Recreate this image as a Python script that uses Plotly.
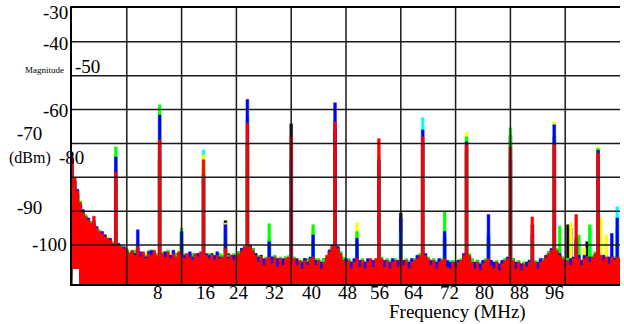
import plotly.graph_objects as go

# ---------------- data ----------------
FREQ_MHZ = [i * 0.5 for i in range(201)]  # 0 .. 100 MHz, 0.5 MHz bins

RED = [
    -74, -80, -84, -87.5, -90, -91.5, -92.5, -93.5, -91.5, -95, -96, -96.5, -97.5, -98, -98.5, -99.5, -78.5, -100, -100.5, -101, -101.5,
    -102.5, -101.5, -103, -100.5, -103.5, -102, -104, -102.5, -103, -101.5, -103, -69, -102.5, -103.5, -102, -104, -102.5, -103.5, -102, -103,
    -104, -102.5, -103.5, -104.5, -102.5, -103.5, -102, -74.8, -103, -104, -103, -104.5, -103, -104, -103.5, -101, -104, -103, -104.5, -103,
    -102.5, -101.5, -100.5, -64, -100.5, -101.5, -103, -105, -103.5, -106, -104, -103.5, -105.5, -103.5, -106.5, -104, -106, -104, -103.5, -68,
    -104, -106, -104.5, -107, -104.5, -106, -104, -103.5, -106, -104.5, -107, -105, -103, -102, -100.5, -63.6, -101, -102.5, -104.5, -106,
    -104.5, -107, -105, -104, -106.5, -104.5, -107, -105, -104, -106.5, -104, -68.6, -104, -106.5, -104.5, -107, -105, -104.5, -106.5, -104,
    -106, -104.5, -107, -105, -104.5, -104, -103, -68, -103, -104, -106, -104.5, -107, -105, -104.5, -104, -106.5, -107, -105, -107,
    -105, -104.5, -103, -70.4, -103, -105, -107, -105, -107.5, -105.5, -104.5, -104, -106, -107, -105, -107.5, -105.5, -104.5, -104, -71,
    -104.5, -107, -105, -107.5, -105.5, -106.5, -105, -91.7, -105, -107, -105, -104.5, -103.5, -102.5, -101.5, -70.4, -101.5, -103, -104, -106,
    -104.5, -106, -104, -91, -104, -106, -104, -103.5, -105, -103.5, -102.5, -72.8, -103, -104.5, -103.5, -105.5, -103.5, -104.5, -103.5, -104,
]

BLUE = [
    -75, -81, -83.5, -88, -89.5, -92, -92, -94, -93, -94.5, -96.5, -96, -97, -98.5, -98, -100, -74, -99.5, -101, -100.5, -102,
    -103, -102, -102.5, -95.5, -102, -103, -103.5, -102, -101.5, -102.5, -104, -61.6, -103, -102, -103, -103, -101.5, -104, -102.5, -96,
    -103, -103.5, -102, -103.5, -103, -102.5, -103.5, -80, -102.5, -103, -104, -103, -102, -103.5, -104, -94, -103.5, -104, -103, -104,
    -103, -101, -101.5, -57, -100, -102, -102.5, -103.5, -104.5, -104, -104.5, -99, -103.5, -104.5, -104, -105, -104, -104.5, -104.5, -75,
    -105, -104, -105.5, -105, -104, -105, -103.5, -97, -104.5, -105.5, -105, -105.5, -104, -101.5, -101, -58, -100.5, -103, -104.5, -104,
    -105.5, -105, -104, -98, -104.5, -105.5, -105, -104, -105, -104.5, -105, -75, -104.5, -104.5, -105.5, -105, -104, -105.5, -104.5, -92,
    -104.5, -105.5, -105, -104, -105.5, -103, -103.5, -66, -102.5, -104.5, -104.5, -105.5, -105, -104, -105.5, -96, -104.5, -105, -106, -105,
    -104.5, -105.5, -102.5, -69.5, -103.5, -105.5, -105, -106, -105.5, -104.5, -105.5, -91, -104.5, -105, -106, -105.5, -104.5, -105.5, -103.5, -75,
    -105.5, -105, -106, -105.5, -106, -105, -104.5, -97, -106, -105, -104, -105.5, -103, -103.5, -101, -64.5, -102, -102.5, -105, -104.5,
    -105.5, -104, -103.5, -98, -103, -104.5, -103, -104, -103.5, -104.5, -103, -72, -104, -103, -104.5, -103.5, -96.6, -104, -92, -104.5,
]

GREEN = [
    -76, -82, -85, -87, -90.5, -91, -93, -93, -94, -95.5, -95.5, -97, -97, -98, -99, -99, -71, -100.5, -100, -101.5, -101,
    -102, -103, -101.5, -101, -103, -102.5, -103, -101.5, -103.5, -102, -102.5, -58.6, -102, -103, -101.5, -103, -103, -102.5, -103.5, -95,
    -102.5, -104, -103, -102.5, -104, -103, -102.5, -79, -103.5, -102.5, -103.5, -104, -103.5, -102.5, -103, -97, -103, -104.5, -102.5, -103.5,
    -102, -102, -102, -70, -101.5, -101, -103.5, -103, -104, -104.5, -103.5, -93.7, -104, -103, -104.5, -103.5, -104.5, -103.5, -104, -76,
    -103.5, -104.5, -105, -104.5, -105, -104, -104.5, -94, -104, -104, -105, -104, -103.5, -102.5, -101, -72, -101.5, -102, -103.5, -104.5,
    -104, -105.5, -105, -96, -104.5, -104, -105.5, -104.5, -104.5, -105, -104.5, -74, -103.5, -105, -104, -105.5, -104.5, -104, -105, -97,
    -105, -104, -105.5, -104.5, -104, -104.5, -102.5, -72, -103.5, -103.5, -105, -104, -105.5, -104.5, -104, -90, -105, -105.5, -104.5, -105.5,
    -104.5, -104, -103.5, -68, -102.5, -104, -105.5, -104.5, -106, -105, -104, -97, -105, -105.5, -104.5, -106, -105, -104, -104.5, -65.4,
    -104, -105.5, -104.5, -106, -105, -105.5, -104.5, -98, -104.5, -105.5, -104.5, -104, -104, -102, -102, -68, -101, -94.4, -103.5, -104.5,
    -104, -104.5, -104, -100, -97, -104.5, -103.5, -104, -94, -103, -102, -71.5, -103.5, -103.5, -104, -104, -103, -103.5, -95, -103.5,
]

YELLOW = [
    -75.5, -81.5, -84.5, -87, -89.5, -91.5, -92, -93.5, -93.5, -94.5, -96, -96, -97.5, -97.5, -98.5, -99, -84, -100, -100, -101, -102,
    -103, -102.5, -102, -102, -102.5, -103, -102.5, -103, -102, -103, -102.5, -75, -103, -102.5, -102.5, -103.5, -102, -103, -101.5, -101,
    -103.5, -103, -102.5, -104, -103, -102.5, -103, -73.4, -102.5, -103.5, -103, -103.5, -102.5, -103.5, -102.5, -93.5, -103.5, -103.5, -104, -102.5,
    -102.5, -102.5, -101, -75, -102, -101.5, -103, -104, -103.5, -104, -105, -100, -104, -104, -105, -104, -104, -105, -103.5, -78,
    -104.5, -104.5, -104, -105.5, -104.5, -105, -104.5, -95, -105, -104, -105.5, -104.5, -104, -102, -101.5, -75, -101, -102.5, -103.5, -104.5,
    -104.5, -105, -104.5, -93.4, -105, -105, -105, -104.5, -104.5, -105, -104, -76, -104.5, -105, -104.5, -105, -105, -104.5, -105, -98,
    -104.5, -105, -105, -104.5, -105, -104, -103, -74, -103, -104, -104.5, -105, -105, -104.5, -105, -99, -104.5, -105, -105, -105,
    -105.5, -104.5, -103.5, -66.8, -103.5, -104, -105, -105.5, -105.5, -105, -104.5, -99, -105, -105, -105.5, -105.5, -105, -105, -104.5, -78,
    -105, -105, -105.5, -105.5, -105, -105, -105, -99, -105.5, -105, -105.5, -104.5, -103.5, -103, -101, -63.6, -101.5, -103, -103.5, -104,
    -104, -93.4, -104.5, -99, -104, -104, -100.8, -103.5, -104, -104, -102, -71, -92, -103.5, -97, -104, -103.5, -103.5, -100, -104,
]

CYAN = [
    -77, -82, -85, -88, -90, -92, -93, -93.5, -94, -95, -96.5, -97, -97.5, -98, -99, -99.5, -80, -100.5, -100.5, -101.5, -102,
    -102.5, -102.5, -103, -99, -103, -102.5, -103.5, -102.5, -103, -102, -103, -73, -103.5, -102, -103, -104, -102, -103, -102.5, -96.5,
    -103.5, -102.5, -103.5, -103.5, -103, -103, -102.5, -71.9, -103, -103, -103.5, -103.5, -103, -103, -104, -96, -103, -104, -103, -103,
    -103, -102, -101, -62, -101, -102, -103, -103.5, -104, -104.5, -104, -98, -104.5, -103, -104, -104.5, -105, -104, -103, -77,
    -104, -105, -104, -105, -105, -104.5, -104, -98, -104.5, -105, -104.5, -105, -104, -102.5, -100.5, -70, -101.5, -102, -104, -105,
    -105, -104.5, -105, -99, -105, -104.5, -105.5, -105, -104.5, -105, -104.5, -77, -104, -105, -105, -104.5, -105.5, -104.5, -105, -96,
    -105, -105, -104.5, -105.5, -104.5, -104.5, -103, -62.4, -102.5, -104, -105, -105, -104.5, -105.5, -104.5, -97, -105, -104.5, -105.5, -105,
    -105, -104.5, -103, -72, -103, -104.5, -105.5, -105, -105, -105.5, -104, -96, -105.5, -105, -105, -106, -105, -104, -105, -73,
    -105, -105.5, -105, -105.5, -105.5, -105.5, -104.5, -99, -105, -105.5, -104.5, -105, -103, -103, -101.5, -63.8, -102, -103.5, -104, -105,
    -104.5, -105, -104, -99, -104, -104.5, -103.5, -104, -95, -103.5, -102.5, -74, -103.5, -104, -103.5, -104.5, -103.5, -104, -88.7, -104,
]

BLACK = [
    -76, -81, -85, -88, -90, -91.5, -93, -94, -94, -95, -96, -97, -97, -98.5, -99, -99.5, -82, -100.5, -101, -101, -101.5,
    -102.5, -102, -103, -101, -102.5, -103, -103, -103, -102.5, -102, -103.5, -75, -102.5, -103, -102.5, -103.5, -103, -102.5, -103, -100,
    -103, -103, -103, -103, -103.5, -102.5, -103, -79, -103.5, -103.5, -102.5, -104, -103, -103, -103, -92.8, -102.5, -103, -104, -103,
    -102, -101, -100.5, -70, -100.5, -101, -102.5, -104, -103, -104.5, -104.5, -99, -103.5, -104, -104.5, -104, -105, -103.5, -104, -64.2,
    -104.5, -104.5, -105, -105, -104, -105, -104.5, -99, -104.5, -104.5, -105.5, -104, -104, -101.5, -100, -66, -100.5, -102, -104, -104.5,
    -104.5, -105.5, -104.5, -100, -105, -104.5, -105, -105, -104.5, -105, -104, -76, -104.5, -105, -104.5, -105.5, -104.5, -104.5, -105, -90.5,
    -105, -105, -105, -104.5, -104.5, -104, -103, -70, -103.5, -104, -105, -104.5, -105.5, -104.5, -104.5, -98, -105, -105.5, -105, -105.5,
    -104.5, -104.5, -103, -72, -103, -104, -105.5, -104.5, -106, -105, -104.5, -98, -105, -105.5, -105, -106, -105, -104.5, -104, -67.5,
    -104, -105.5, -105, -106, -105, -105.5, -104.5, -94, -105, -105.5, -105, -104, -103.5, -102, -101, -68, -101.5, -103, -103.5, -104,
    -94, -95, -104.5, -99, -104, -104.5, -104, -99, -104, -103.5, -102.5, -76, -103, -104, -103, -104, -103.5, -103.5, -103.5, -104,
]

# lower envelope of the plotted spectra (small gap near DC, elsewhere below the visible range)
FLOOR_FREQ = [0, 0.1, 1.3, 1.4, 100]
FLOOR_DBM = [-115, -107, -107, -115, -115]

Y_LABELS = ["-30", "-40", "-50", "-60", "-70", "-80", "-90", "-100"]
X_LABELS = ["8", "16", "24", "32", "40", "48", "56", "64", "72", "80", "88", "96"]
X_TITLE = "Frequency (MHz)"
Y_TITLE_1 = "Magnitude"
Y_TITLE_2 = "(dBm)"

# ---------------- layout helpers ----------------
FIG_W, FIG_H = 624, 324
L, R, T, B = 72, 4, 8, 40
PW, PH = FIG_W - L - R, FIG_H - T - B
FONT = "Liberation Serif, Times New Roman, serif"


def px(x):
    return (x - L) / PW


def py(y):
    return (T + PH - y) / PH


fig = go.Figure()


def add_filled(vals, col):
    fig.add_trace(go.Scatter(x=FLOOR_FREQ, y=FLOOR_DBM, mode="lines",
                             line=dict(width=0, color="rgba(0,0,0,0)"),
                             hoverinfo="skip", showlegend=False))
    fig.add_trace(go.Scatter(x=FREQ_MHZ, y=vals, mode="lines", fill="tonexty",
                             fillcolor=col, line=dict(color=col, width=0.5, shape="hvh"),
                             hoverinfo="skip", showlegend=False))


series = [
    (BLACK, "#000000"),
    (CYAN, "#00ffff"),
    (YELLOW, "#ffff00"),
    (GREEN, "#00ff00"),
    (BLUE, "#0000ff"),
    (RED, "#ff0000"),
]
for vals, col in series:
    add_filled(vals, col)

# grid drawn above the traces
shapes = []
for v in range(10, 100, 10):
    shapes.append(dict(type="line", xref="x", yref="paper", x0=v, x1=v, y0=0, y1=1,
                       line=dict(color="#1a1a1a", width=1.5), layer="above"))
for h in range(-40, -101, -10):
    shapes.append(dict(type="line", xref="paper", yref="y", x0=0, x1=1, y0=h, y1=h,
                       line=dict(color="#1a1a1a", width=1.5), layer="above"))

ann = []
# y tick labels as drawn in the reference (anchor x px, xanchor, centre y px)
y_label_pos = [(69, "right", 13), (69, "right", 43.5), (74, "left", 66.5), (69, "right", 110),
               (43, "right", 133.5), (58, "left", 157.5), (43, "right", 207.5), (68, "right", 244)]
for txt, (ax, xa, ay) in zip(Y_LABELS, y_label_pos):
    ann.append(dict(text=txt, x=px(ax), y=py(ay), xref="paper", yref="paper",
                    xanchor=xa, yanchor="middle", showarrow=False, borderpad=0,
                    font=dict(family=FONT, size=19, color="black")))
ann.append(dict(text=Y_TITLE_1, x=px(44.5), y=py(69.5), xref="paper", yref="paper",
                xanchor="center", yanchor="middle", showarrow=False, borderpad=0,
                font=dict(family=FONT, size=9, color="black")))
ann.append(dict(text=Y_TITLE_2, x=px(52), y=py(157.5), xref="paper", yref="paper",
                xanchor="right", yanchor="middle", showarrow=False, borderpad=0,
                font=dict(family=FONT, size=16, color="black")))

x_label_px = [157.5, 205, 239, 274, 311, 347, 379, 414, 449, 484, 519, 554]
for txt, ax in zip(X_LABELS, x_label_px):
    ann.append(dict(text=txt, x=px(ax), y=py(292), xref="paper", yref="paper",
                    xanchor="center", yanchor="middle", showarrow=False, borderpad=0,
                    font=dict(family=FONT, size=19, color="black")))
ann.append(dict(text=X_TITLE, x=px(457), y=py(312), xref="paper", yref="paper",
                xanchor="center", yanchor="middle", showarrow=False, borderpad=0,
                font=dict(family=FONT, size=19, color="black")))

fig.update_layout(
    width=FIG_W, height=FIG_H,
    margin=dict(l=L, r=R, t=T, b=B),
    paper_bgcolor="white", plot_bgcolor="white",
    shapes=shapes, annotations=ann,
    xaxis=dict(range=[0, 100], showgrid=False, zeroline=False, showticklabels=False,
               ticks="", showline=True, mirror=True, linecolor="black", linewidth=2),
    yaxis=dict(range=[-111.5, -30], showgrid=False, zeroline=False, showticklabels=False,
               ticks="", showline=True, linecolor="black", linewidth=2),
)

fig.write_html("out.html", config={"displayModeBar": False},
               post_script="document.body.style.margin='0px';document.body.style.overflow='hidden';")
